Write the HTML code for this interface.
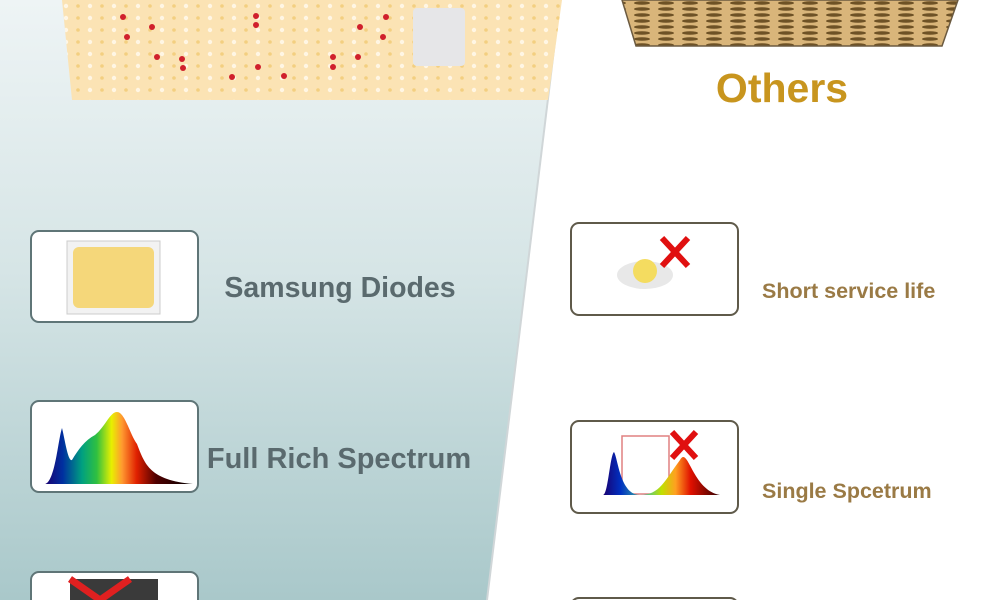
<!DOCTYPE html>
<html><head><meta charset="utf-8"><style>
html,body{margin:0;padding:0;width:1000px;height:600px;overflow:hidden;background:#fff}
svg{display:block}
text{font-family:"Liberation Sans",sans-serif;font-weight:bold}
</style></head><body>
<svg width="1000" height="600" viewBox="0 0 1000 600">
<defs>
<linearGradient id="bg" x1="0" y1="0" x2="0" y2="1">
<stop offset="0" stop-color="#eef4f5"/><stop offset="0.45" stop-color="#d6e5e6"/><stop offset="1" stop-color="#a9c8ca"/>
</linearGradient>
<pattern id="ldots" x="72" y="0" width="24" height="12" patternUnits="userSpaceOnUse">
<rect width="24" height="12" fill="#fbe3b4"/>
<circle cx="6" cy="6" r="1.8" fill="#f3cf80"/><circle cx="18" cy="6" r="2.2" fill="#fff6e4"/>
</pattern>
<pattern id="rdots" x="630" y="0" width="24" height="6" patternUnits="userSpaceOnUse">
<rect width="24" height="6" fill="#d9b57a"/>
<ellipse cx="12" cy="3" rx="8" ry="1.8" fill="#6e5226"/>
</pattern>
<linearGradient id="spec" gradientUnits="userSpaceOnUse" x1="45" y1="0" x2="193" y2="0">
<stop offset="0" stop-color="#1a0070"/><stop offset="0.12" stop-color="#0030a0"/><stop offset="0.25" stop-color="#00a080"/>
<stop offset="0.35" stop-color="#30c040"/><stop offset="0.45" stop-color="#e8f000"/><stop offset="0.52" stop-color="#ff9a30"/>
<stop offset="0.62" stop-color="#e02000"/><stop offset="0.75" stop-color="#500000"/><stop offset="1" stop-color="#000"/>
</linearGradient>
<linearGradient id="spec2" gradientUnits="userSpaceOnUse" x1="603" y1="0" x2="720" y2="0">
<stop offset="0" stop-color="#1a0070"/><stop offset="0.15" stop-color="#0030c0"/><stop offset="0.35" stop-color="#40c0a0"/>
<stop offset="0.5" stop-color="#c0e000"/><stop offset="0.62" stop-color="#ffa020"/><stop offset="0.75" stop-color="#e01000"/><stop offset="1" stop-color="#300000"/>
</linearGradient>
</defs>
<polygon points="0,0 560,0 487,600 0,600" fill="url(#bg)"/>
<line x1="560" y1="0" x2="487" y2="600" stroke="#d0d6d8" stroke-width="2"/>
<polygon points="62,0 562,0 548,100 72,100" fill="url(#ldots)"/>
<g fill="#d0202c">
<circle cx="123" cy="17" r="3"/><circle cx="152" cy="27" r="3"/><circle cx="127" cy="37" r="3"/><circle cx="157" cy="57" r="3"/><circle cx="182" cy="59" r="3"/><circle cx="183" cy="68" r="3"/><circle cx="232" cy="77" r="3"/><circle cx="256" cy="16" r="3"/><circle cx="256" cy="25" r="3"/><circle cx="258" cy="67" r="3"/><circle cx="284" cy="76" r="3"/><circle cx="333" cy="57" r="3"/><circle cx="333" cy="67" r="3"/><circle cx="358" cy="57" r="3"/><circle cx="360" cy="27" r="3"/><circle cx="383" cy="37" r="3"/><circle cx="386" cy="17" r="3"/>
</g>
<rect x="413" y="8" width="52" height="58" rx="4" fill="#e6e6e8"/>
<polygon points="622,0 958,0 942,46 636,46" fill="url(#rdots)" stroke="#6b5a40" stroke-width="1.5"/>
<text x="782" y="102" font-size="41" fill="#c8951e" text-anchor="middle">Others</text>

<g>
<rect x="31" y="231" width="167" height="91" rx="8" fill="#fff" stroke="#5f7577" stroke-width="2"/>
<rect x="67" y="241" width="93" height="73" fill="#f2f2f2" stroke="#ccc"/>
<rect x="73" y="247" width="81" height="61" rx="6" fill="#f5d77a"/>
</g>
<text x="340" y="297" font-size="28.5" fill="#5a6a6e" text-anchor="middle">Samsung Diodes</text>

<g>
<rect x="31" y="401" width="167" height="91" rx="8" fill="#fff" stroke="#5f7577" stroke-width="2"/>
<path d="M45,484 C55,482 58,440 62,428 C65,440 68,462 72,460 C78,450 85,440 95,435 C105,427 110,412 117,412 C125,412 130,435 137,444 C145,465 150,480 193,484 Z" fill="url(#spec)"/>
</g>
<text x="339" y="468" font-size="29" fill="#5a6a6e" text-anchor="middle">Full Rich Spectrum</text>

<g>
<rect x="31" y="572" width="167" height="50" rx="8" fill="#fff" stroke="#5f7577" stroke-width="2"/>
<rect x="70" y="579" width="88" height="30" fill="#3a3a3a"/>
<path d="M70,579 L100,600 M130,579 L100,600" stroke="#e02020" stroke-width="7"/>
</g>

<g>
<rect x="571" y="223" width="167" height="92" rx="8" fill="#fff" stroke="#5f5a4a" stroke-width="2"/>
<ellipse cx="645" cy="275" rx="28" ry="14" fill="#e8e8e8"/>
<circle cx="645" cy="271" r="12" fill="#f4dc60"/>
<path d="M662,238 L688,266 M688,238 L662,266" stroke="#e01010" stroke-width="6"/>
</g>
<text x="762" y="298" font-size="21.5" fill="#9a7a45">Short service life</text>

<g>
<rect x="571" y="421" width="167" height="92" rx="8" fill="#fff" stroke="#5f5a4a" stroke-width="2"/>
<rect x="622" y="436" width="47" height="58" fill="none" stroke="#e08080" stroke-width="1.5"/>
<path d="M603,495 C608,495 610,455 614,452 C618,458 620,495 640,495 C660,495 665,480 680,460 C688,445 692,490 720,495 Z" fill="url(#spec2)"/>
<path d="M672,432 L696,458 M696,432 L672,458" stroke="#e01010" stroke-width="6"/>
</g>
<text x="762" y="498" font-size="21.5" fill="#9a7a45">Single Spcetrum</text>

<rect x="571" y="598" width="167" height="20" rx="8" fill="#fff" stroke="#5f5a4a" stroke-width="2"/>
</svg>
</body></html>
